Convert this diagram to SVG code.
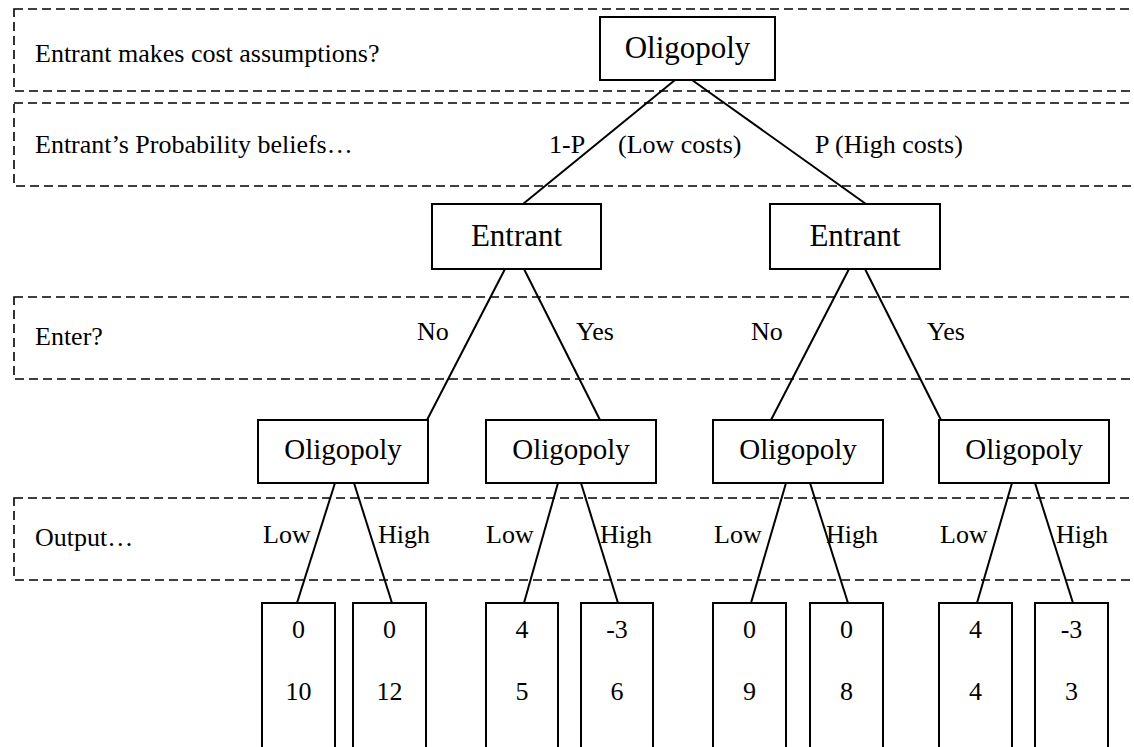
<svg xmlns="http://www.w3.org/2000/svg" width="1134" height="747" viewBox="0 0 1134 747">
<style>
.band{fill:none;stroke:#000;stroke-width:1.6;stroke-dasharray:9,5}
.box{fill:#fff;stroke:#000;stroke-width:2}
.edge{stroke:#000;stroke-width:2;fill:none}
text{font-family:"Liberation Serif","Times New Roman",serif;fill:#000}
.lbl{font-size:26px}
.node{font-size:29px;text-anchor:middle}
.big{font-size:31px;text-anchor:middle}
.num{font-size:26px;text-anchor:middle}
</style>
<rect width="1134" height="747" fill="#fff"/>
<g id="bands">
<rect class="band" x="14" y="9" width="1140" height="82"/>
<rect class="band" x="14" y="103" width="1140" height="83"/>
<rect class="band" x="14" y="297" width="1140" height="82"/>
<rect class="band" x="14" y="498" width="1140" height="82"/>
<text class="lbl" x="35" y="62">Entrant makes cost assumptions?</text>
<text class="lbl" x="35" y="153">Entrant’s Probability beliefs…</text>
<text class="lbl" x="35" y="345">Enter?</text>
<text class="lbl" x="35" y="546">Output…</text>
</g>
<g id="connectors">
<line class="edge" x1="675" y1="80" x2="523" y2="204"/>
<line class="edge" x1="692" y1="80" x2="866" y2="204"/>
<line class="edge" x1="505" y1="269" x2="427" y2="420"/>
<line class="edge" x1="524" y1="269" x2="600" y2="420"/>
<line class="edge" x1="849" y1="269" x2="771" y2="420"/>
<line class="edge" x1="865" y1="269" x2="941" y2="420"/>
<line class="edge" x1="335" y1="483" x2="297" y2="603"/>
<line class="edge" x1="354" y1="483" x2="392" y2="603"/>
<line class="edge" x1="558" y1="483" x2="524" y2="603"/>
<line class="edge" x1="581" y1="483" x2="618" y2="603"/>
<line class="edge" x1="786" y1="483" x2="751" y2="603"/>
<line class="edge" x1="810" y1="483" x2="848" y2="603"/>
<line class="edge" x1="1012" y1="483" x2="977" y2="603"/>
<line class="edge" x1="1035" y1="483" x2="1073" y2="603"/>
</g>
<g id="edge-labels">
<text class="lbl" x="549" y="153">1-P</text>
<text class="lbl" x="618" y="153">(Low costs)</text>
<text class="lbl" x="815" y="153">P (High costs)</text>
<text class="lbl" x="417" y="340">No</text>
<text class="lbl" x="576" y="340">Yes</text>
<text class="lbl" x="751" y="340">No</text>
<text class="lbl" x="927" y="340">Yes</text>
<text class="lbl" x="263" y="543">Low</text>
<text class="lbl" x="378" y="543">High</text>
<text class="lbl" x="486" y="543">Low</text>
<text class="lbl" x="600" y="543">High</text>
<text class="lbl" x="714" y="543">Low</text>
<text class="lbl" x="826" y="543">High</text>
<text class="lbl" x="940" y="543">Low</text>
<text class="lbl" x="1056" y="543">High</text>
</g>
<g id="root"><rect class="box" x="600" y="17" width="175" height="63"/><text class="big" x="687.5" y="58">Oligopoly</text></g>
<g id="entrant-low"><rect class="box" x="432" y="204" width="169" height="65"/><text class="big" x="516.5" y="246">Entrant</text></g>
<g id="entrant-high"><rect class="box" x="770" y="204" width="170" height="65"/><text class="big" x="855" y="246">Entrant</text></g>
<g id="olig-1"><rect class="box" x="258" y="420" width="170" height="63"/><text class="node" x="343" y="459">Oligopoly</text></g>
<g id="olig-2"><rect class="box" x="486" y="420" width="170" height="63"/><text class="node" x="571" y="459">Oligopoly</text></g>
<g id="olig-3"><rect class="box" x="713" y="420" width="170" height="63"/><text class="node" x="798" y="459">Oligopoly</text></g>
<g id="olig-4"><rect class="box" x="939" y="420" width="170" height="63"/><text class="node" x="1024" y="459">Oligopoly</text></g>
<g id="leaf-1"><rect class="box" x="262" y="603" width="73" height="160"/><text class="num" x="298.5" y="638">0</text><text class="num" x="298.5" y="700">10</text></g>
<g id="leaf-2"><rect class="box" x="353" y="603" width="73" height="160"/><text class="num" x="389.5" y="638">0</text><text class="num" x="389.5" y="700">12</text></g>
<g id="leaf-3"><rect class="box" x="486" y="603" width="72" height="160"/><text class="num" x="522" y="638">4</text><text class="num" x="522" y="700">5</text></g>
<g id="leaf-4"><rect class="box" x="581" y="603" width="72" height="160"/><text class="num" x="617" y="638">-3</text><text class="num" x="617" y="700">6</text></g>
<g id="leaf-5"><rect class="box" x="713" y="603" width="73" height="160"/><text class="num" x="749.5" y="638">0</text><text class="num" x="749.5" y="700">9</text></g>
<g id="leaf-6"><rect class="box" x="810" y="603" width="73" height="160"/><text class="num" x="846.5" y="638">0</text><text class="num" x="846.5" y="700">8</text></g>
<g id="leaf-7"><rect class="box" x="939" y="603" width="73" height="160"/><text class="num" x="975.5" y="638">4</text><text class="num" x="975.5" y="700">4</text></g>
<g id="leaf-8"><rect class="box" x="1035" y="603" width="73" height="160"/><text class="num" x="1071.5" y="638">-3</text><text class="num" x="1071.5" y="700">3</text></g>
</svg>
